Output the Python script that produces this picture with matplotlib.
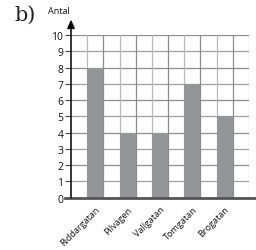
import matplotlib
matplotlib.use('Agg')
import matplotlib.pyplot as plt

gator = ['Riddargatan', 'Pilvägen', 'Vallgatan', 'Tomgatan', 'Brogatan']
antal = [8, 4, 4, 7, 5]
yticks = list(range(0, 11))

BAR = '#939598'
FONT = 'Open Sans'

fig = plt.figure(figsize=(2.56, 2.51), dpi=100)
ax = fig.add_axes([71/256, 52.3/251, 178/256, 162.7/251])

pos = [1.5 + 2*i for i in range(len(gator))]

# rutnät
for y in range(1, 11):
    ax.plot([0, 11], [y, y], color='#a0a0a0' if y % 2 else '#8c8c8c', lw=0.9, zorder=1)
for x in range(1, 12):
    ax.plot([x, x], [0, 10], color='#b8b8b8' if x % 2 else '#8c8c8c', lw=0.9, zorder=1)

ax.bar(pos, antal, width=1.0, color=BAR, zorder=2)

ax.set_xlim(0, 11)
ax.set_ylim(0, 10)
for s in ax.spines.values():
    s.set_visible(False)

# x-axel
ax.plot([-0.35, 11.45], [0, 0], color='#555555', lw=2, clip_on=False, zorder=3)
# y-axel med pil
ax.annotate('', xy=(0, 10.95), xytext=(0, 0), xycoords='data',
            arrowprops=dict(arrowstyle='-|>,head_width=0.22,head_length=0.5',
                            color='black', lw=1.1, shrinkA=0, shrinkB=0),
            annotation_clip=False, zorder=4)

ax.set_yticks(yticks)
ax.set_yticklabels([str(v) for v in yticks], fontsize=7.5, family=FONT, color='#111111')
ax.tick_params(axis='y', length=4, width=0.8, color='#444444', pad=1.5)
ax.set_xticks(pos)
ax.set_xticklabels(gator, rotation=45, ha='right', va='top', rotation_mode='anchor',
                   fontsize=6.6, family=FONT, color='#111111')
ax.tick_params(axis='x', length=0, pad=5)

fig.text(48/256, 1 - 11/251, 'Antal', fontsize=6.5, family=FONT, ha='left', va='center',
         color='#111111')
fig.text(14/256, 1 - 15/251, 'b)', fontsize=15, family='DejaVu Serif', ha='left', va='center',
         color='#222222')

fig.savefig('out.png', dpi=100)
